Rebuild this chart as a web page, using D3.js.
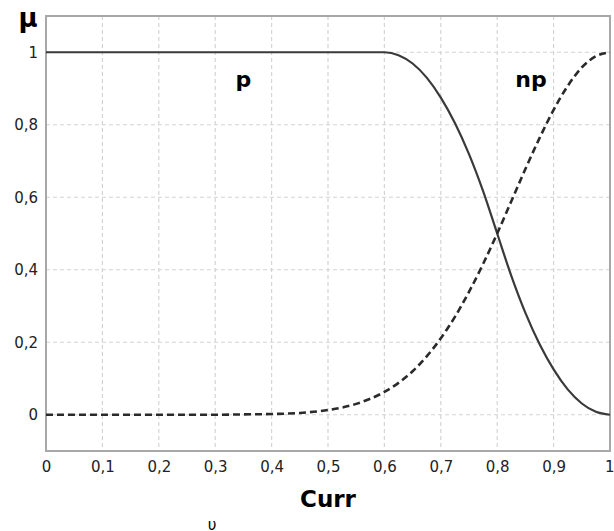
<!DOCTYPE html><head><meta charset="utf-8">
<title>Curr membership</title>
<style type="text/css">
body { margin: 0; background: white; }
svg text { font-family: "DejaVu Sans", sans-serif; }
</style>
<script type="text/javascript" src="https://cdn.jsdelivr.net/npm/d3@7"></script>
</head><body>
<div id="chart"></div>
<script type="text/javascript">

// values
var xTicks = [0, 0.1, 0.2, 0.3, 0.4, 0.5, 0.6, 0.7, 0.8, 0.9, 1];
var xTickLabels = ["0", "0,1", "0,2", "0,3", "0,4", "0,5", "0,6", "0,7", "0,8", "0,9", "1"];
var yTicks = [0, 0.2, 0.4, 0.6, 0.8, 1];
var yTickLabels = ["0", "0,2", "0,4", "0,6", "0,8", "1"];

var pX = [0, 0.1, 0.2, 0.3, 0.4, 0.5, 0.6, 0.625, 0.65, 0.675, 0.7, 0.725, 0.75, 0.775, 0.8,
          0.825, 0.85, 0.875, 0.9, 0.925, 0.95, 0.975, 1];
var pY = [1, 1, 1, 1, 1, 1, 1, 0.992, 0.969, 0.93, 0.875, 0.805, 0.719, 0.617, 0.5,
          0.383, 0.281, 0.195, 0.125, 0.07, 0.031, 0.008, 0];

var npX = [0, 0.1, 0.2, 0.3, 0.35, 0.4, 0.45, 0.5, 0.55, 0.6, 0.625, 0.65, 0.675, 0.7, 0.725, 0.75,
           0.775, 0.8, 0.825, 0.85, 0.875, 0.9, 0.925, 0.95, 0.975, 1];
var npY = [0, 0, 0, 0, 0.001, 0.002, 0.005, 0.013, 0.03, 0.063, 0.088, 0.12, 0.161, 0.211, 0.27, 0.339,
           0.416, 0.5, 0.589, 0.678, 0.763, 0.841, 0.907, 0.958, 0.989, 1];

var width = 614, height = 531;
var margin = {left: 46, right: 4, top: 16, bottom: 80};

var svg = d3.select("#chart").append("svg")
  .attr("width", width).attr("height", height);

var x = d3.scaleLinear().domain([0, 1]).range([margin.left, width - margin.right]);
var y = d3.scaleLinear().domain([-0.1, 1.1]).range([height - margin.bottom, margin.top]);

// grid
svg.append("g").selectAll("line.vgrid").data(xTicks.slice(1, -1)).join("line")
  .attr("class", "vgrid")
  .attr("x1", d => x(d)).attr("x2", d => x(d))
  .attr("y1", y(1.1)).attr("y2", y(-0.1))
  .attr("stroke", "#d4d4d4").attr("stroke-width", 1.2).attr("stroke-dasharray", "4,3");
svg.append("g").selectAll("line.hgrid").data(yTicks).join("line")
  .attr("class", "hgrid")
  .attr("x1", x(0)).attr("x2", x(1))
  .attr("y1", d => y(d)).attr("y2", d => y(d))
  .attr("stroke", "#d4d4d4").attr("stroke-width", 1.2).attr("stroke-dasharray", "4,3");

// frame
svg.append("rect")
  .attr("x", x(0)).attr("y", y(1.1))
  .attr("width", x(1) - x(0)).attr("height", y(-0.1) - y(1.1))
  .attr("fill", "none").attr("stroke", "#a8a8a8").attr("stroke-width", 2);

// axes (labels only)
var xAxis = svg.append("g")
  .attr("transform", "translate(0," + y(-0.1) + ")")
  .call(d3.axisBottom(x).tickValues(xTicks).tickSize(0).tickPadding(10)
    .tickFormat((d, i) => xTickLabels[i]));
xAxis.select(".domain").remove();
xAxis.selectAll("text").attr("font-size", 15).attr("fill", "#222")
  .attr("font-family", "DejaVu Sans Condensed, DejaVu Sans, sans-serif");
xAxis.selectAll(".tick:last-of-type text").attr("text-anchor", "end").attr("dx", 4);

var yAxis = svg.append("g")
  .attr("transform", "translate(" + x(0) + ",0)")
  .call(d3.axisLeft(y).tickValues(yTicks).tickSize(0).tickPadding(8)
    .tickFormat((d, i) => yTickLabels[i]));
yAxis.select(".domain").remove();
yAxis.selectAll("text").attr("font-size", 15).attr("fill", "#222")
  .attr("font-family", "DejaVu Sans Condensed, DejaVu Sans, sans-serif");

var line = d3.line().curve(d3.curveMonotoneX);

svg.append("path")
  .datum(pX.map((v, i) => [x(v), y(pY[i])]))
  .attr("d", line)
  .attr("fill", "none").attr("stroke", "#3a3a3a").attr("stroke-width", 2.2);

svg.append("path")
  .datum(npX.map((v, i) => [x(v), y(npY[i])]))
  .attr("d", line)
  .attr("fill", "none").attr("stroke", "#2a2a2a").attr("stroke-width", 2.6)
  .attr("stroke-dasharray", "7,4");

// labels
svg.append("text").attr("x", x(0.35)).attr("y", 87)
  .attr("text-anchor", "middle").attr("font-size", 22).attr("font-weight", "bold")
  .attr("font-family", "Liberation Sans, Arial, sans-serif").text("p");
svg.append("text").attr("x", x(0.86)).attr("y", 87)
  .attr("text-anchor", "middle").attr("font-size", 22).attr("font-weight", "bold")
  .attr("font-family", "Liberation Sans, Arial, sans-serif").text("np");

svg.append("text").attr("x", 28).attr("y", 27)
  .attr("text-anchor", "middle").attr("font-size", 26).attr("font-weight", "bold")
  .attr("font-family", "Liberation Serif, serif").text("μ");

svg.append("text").attr("x", x(0.5)).attr("y", 507)
  .attr("text-anchor", "middle").attr("font-size", 23).attr("font-weight", "bold")
  .attr("font-family", "Liberation Sans, Arial, sans-serif").text("Curr");

svg.append("text").attr("x", 212).attr("y", 530)
  .attr("text-anchor", "middle").attr("font-size", 15)
  .attr("font-family", "Liberation Sans, Arial, sans-serif").text("υ");

</script>
</body></html>
